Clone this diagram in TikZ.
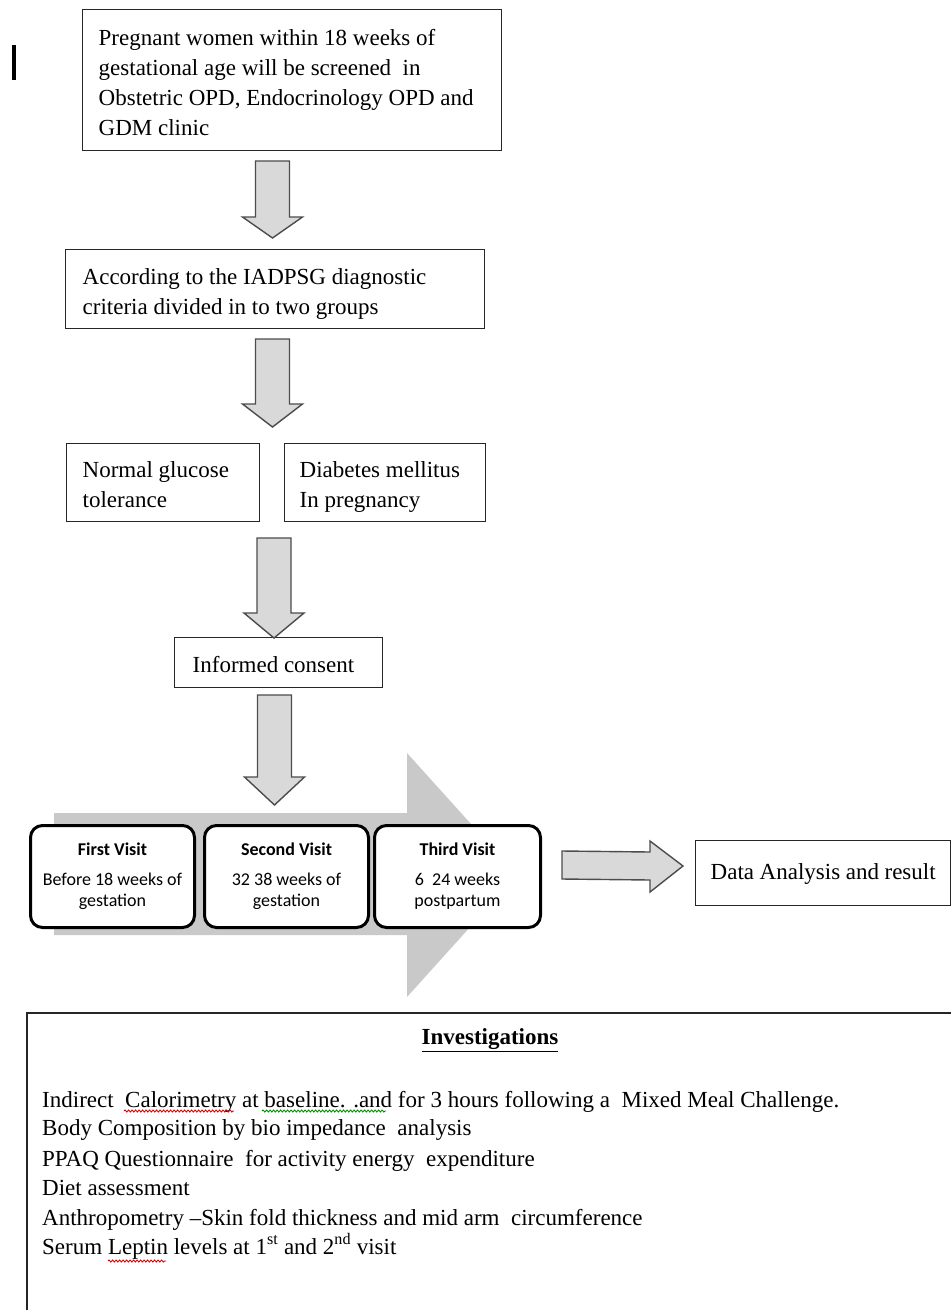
\documentclass[tikz,border=0pt]{standalone}
\usepackage{fontspec}
\setmainfont{Liberation Serif}
\newfontfamily\carl{Carlito}
\usetikzlibrary{calc,decorations.pathmorphing}
\newcommand\tst{\rule{0pt}{29pt}}
\newcommand\bst{\rule[-9pt]{0pt}{9pt}}
\newcommand\blockdown[3]{%
  \draw[barrow] ($(#1)+(-17,0)$) -- ($(#1)+(17,0)$) -- ($(#2)+(17,-#3)$) -- ($(#2)+(30,-#3)$) -- (#2)
    -- ($(#2)+(-30,-#3)$) -- ($(#2)+(-17,-#3)$) -- cycle;}
\begin{document}
\begin{tikzpicture}[x=1pt,y=-1pt,
  box/.style={draw=black!85,line width=1.4pt,fill=white,anchor=north west,align=flush left,
    inner ysep=0pt,font=\fontsize{23}{30}\selectfont},
  barrow/.style={draw=black!70,fill=black!15,line width=1.4pt,line join=miter},
  visit/.style={draw=black,line width=3pt,rounded corners=12pt,fill=white,anchor=north west,
    align=center,inner sep=0pt,minimum height=102pt,minimum width=164pt,
    font=\carl\fontsize{18}{21}\selectfont},
  bigarrow/.style={fill=black!21,draw=none},
  txt/.style={anchor=base west,inner sep=0pt,font=\fontsize{23}{30}\selectfont},
  squig/.style={decorate,decoration={snake,segment length=3.5pt,amplitude=1pt},line width=0.9pt}
]
\useasboundingbox (0,0) rectangle (951,1310);
\fill[black] (12,45) rectangle (16,80);

\node[box,inner xsep=16pt,text width=387pt,minimum height=141pt] (b1) at (82,9)
  {\tst Pregnant women within 18 weeks of\\gestational age will be screened\ \ in\\Obstetric OPD, Endocrinology OPD and\\GDM clinic\bst};
\node[box,inner xsep=17pt,text width=385pt,minimum height=79pt] (b2) at (65,249)
  {\tst According to the IADPSG diagnostic\\criteria divided in to two groups\bst};
\node[box,inner xsep=16pt,text width=161pt,minimum height=78pt] (ngt) at (66,443)
  {\tst Normal glucose\\tolerance\bst};
\node[box,inner xsep=15pt,text width=171pt,minimum height=78pt] (dm) at (284,443)
  {\tst Diabetes mellitus\\In pregnancy\bst};
\node[box,inner xsep=18pt,text width=172pt,minimum height=50pt] (ic) at (174,637)
  {\tst Informed consent\bst};
\node[box,inner xsep=15pt,text width=225pt,minimum height=65pt] (da) at (695,840)
  {\strut Data Analysis and result};

% block arrows
\coordinate (a1s) at (272.5,161); \coordinate (a1e) at (272.5,238);
\coordinate (a2s) at (272.5,339); \coordinate (a2e) at (272.5,427);
\coordinate (a3s) at (274,538);   \coordinate (a3e) at (274,638);
\coordinate (a4s) at (274.5,695); \coordinate (a4e) at (274.5,805);
\blockdown{a1s}{a1e}{21}
\blockdown{a2s}{a2e}{23}
\blockdown{a3s}{a3e}{25}
\blockdown{a4s}{a4e}{28}

% big background arrow
\fill[bigarrow] (54,813) -- (407,813) -- (407,753) -- (517,875) -- (407,997) -- (407,935) -- (54,935) -- cycle;

% visits
\node[visit] (v1) at (29,824) {{\bfseries First Visit}\\[9pt]Before 18 weeks of\\gestation};
\node[visit] (v2) at (203,824) {{\bfseries Second Visit}\\[9pt]32 38 weeks of\\gestation};
\node[visit,minimum width=166pt] (v3) at (373,824) {{\bfseries Third Visit}\\[9pt]6\ \ 24 weeks\\postpartum};

% right arrow
\coordinate (r1) at (562,865); \coordinate (r2) at (683,866);
\draw[barrow] ($(r1)+(0,-14)$) -- ($(r2)+(-33,-14)$) -- ($(r2)+(-33,-25)$) -- (r2)
  -- ($(r2)+(-33,26)$) -- ($(r2)+(-33,14)$) -- ($(r1)+(0,14)$) -- cycle;

% investigations
\draw[draw=black!85,line width=2pt] (951,1013) -- (27,1013) -- (27,1310);
\node[inner sep=0pt,font=\bfseries\fontsize{23}{30}\selectfont] (inv) at (490,1040) {\underline{Investigations}};
\node[txt] (l1) at (42,1107) {Indirect\ \ Calorimetry at baseline. .and for 3 hours following a\ \ Mixed Meal Challenge.};
\node[txt] (l2) at (42,1135) {Body Composition by bio impedance\ \ analysis};
\node[txt] (l3) at (42,1166) {PPAQ Questionnaire\ \ for activity energy\ \ expenditure};
\node[txt] (l4) at (42,1195) {Diet assessment};
\node[txt] (l5) at (42,1225) {Anthropometry --Skin fold thickness and mid arm\ \ circumference};
\node[txt] (l6) at (42,1254) {Serum Leptin levels at 1\textsuperscript{st} and 2\textsuperscript{nd} visit};
\draw[squig,red!85!black] (124,1111) -- (234,1111);
\draw[squig,green!55!black] (262,1111) -- (386,1111);
\draw[squig,red!85!black] (108,1261) -- (166,1261);
\end{tikzpicture}
\end{document}
